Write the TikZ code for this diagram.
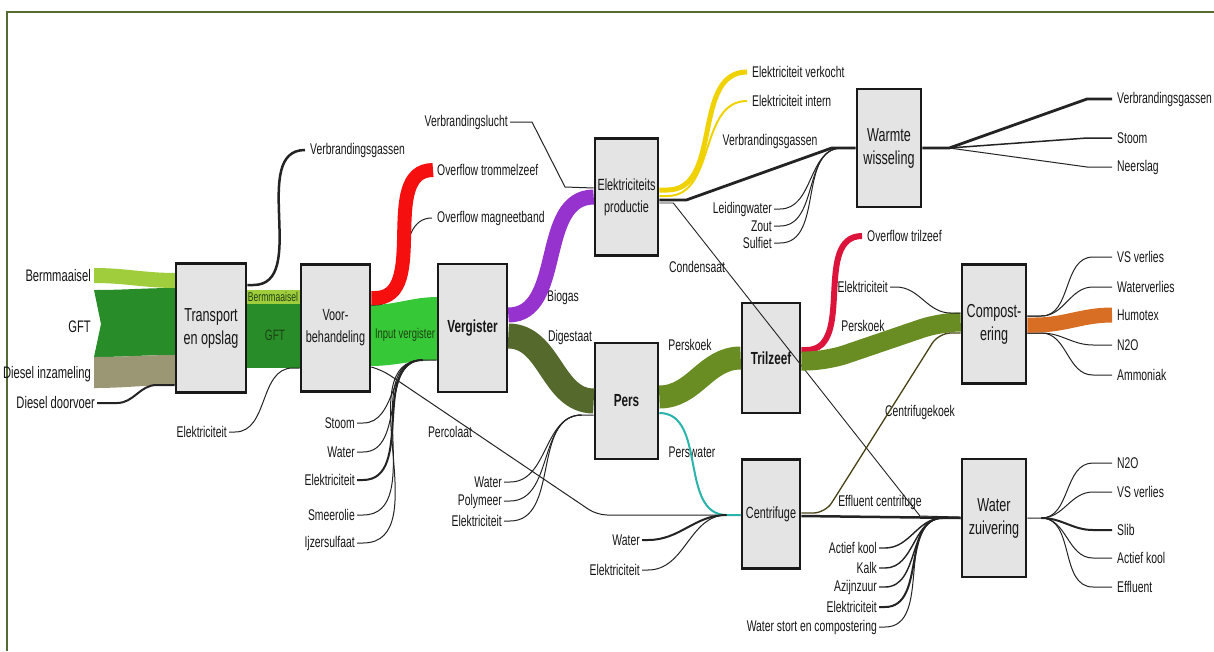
\documentclass[tikz,border=0pt]{standalone}
\usepackage{fontspec}
\setmainfont{Liberation Sans}[FakeStretch=0.67]
\usepackage{tikz}
\usetikzlibrary{positioning}
\definecolor{framegreen}{RGB}{85,107,47}
\definecolor{boxgray}{RGB}{228,228,228}
\definecolor{boxline}{RGB}{25,25,25}
\definecolor{txtgray}{RGB}{22,22,22}
\definecolor{linegray}{RGB}{35,35,35}
\definecolor{bandtxt}{RGB}{30,65,20}
\definecolor{bermgreen}{RGB}{160,205,60}
\definecolor{gftgreen}{RGB}{40,140,40}
\definecolor{dieselkhaki}{RGB}{155,150,115}
\definecolor{inputgreen}{RGB}{55,200,55}
\definecolor{overflowred}{RGB}{245,15,15}
\definecolor{biogaspurple}{RGB}{150,50,205}
\definecolor{digestolive}{RGB}{85,105,45}
\definecolor{koekgreen}{RGB}{105,140,35}
\definecolor{elecyellow}{RGB}{240,210,0}
\definecolor{perswatercol}{RGB}{40,180,170}
\definecolor{trilred}{RGB}{220,20,60}
\definecolor{humotexcol}{RGB}{215,110,35}
\definecolor{koekline}{RGB}{70,65,20}

\begin{document}
\begin{tikzpicture}[x=1pt, y=-1pt,
    box/.style={draw=boxline, fill=boxgray, line width=2.6pt, align=center,
                inner sep=1pt, text=txtgray, font=\fontsize{18.8}{23}\selectfont},
    boxs/.style={box, font=\fontsize{16.2}{22}\selectfont},
    boxb/.style={box, font=\fontsize{17.5}{21}\selectfont\bfseries},
    lbl/.style={inner sep=2pt, text=txtgray, font=\fontsize{15.5}{17}\selectfont},
    lbll/.style={lbl, font=\fontsize{16.7}{18}\selectfont},
    bandlbl/.style={inner sep=0pt, text=bandtxt, font=\fontsize{14.1}{15}\selectfont},
    lin/.style={draw=linegray, line width=1pt},
    linb/.style={draw=linegray, line width=2pt},
    heavy/.style={draw=linegray, line width=2.8pt},
]

\useasboundingbox (0,0) rectangle (1214,651);
\clip (0,0) rectangle (1214,651);
\draw[framegreen, line width=2.5pt] (7,651) -- (7,12) -- (1214,12);

% --- Input bands ---
\fill[bermgreen] (94,268) to[out=0,in=180] (176,273) -- (176,288) to[out=180,in=0] (94,283) -- cycle;
\fill[gftgreen] (94,290) to[out=0,in=180] (176,288) -- (176,355) to[out=180,in=0] (94,357) -- (101,324) -- cycle;
\fill[dieselkhaki] (94,357) to[out=0,in=180] (176,355) -- (176,385) to[out=180,in=0] (94,388) -- cycle;
\fill[bermgreen] (246,290) rectangle (301,304);
\fill[gftgreen] (246,304) rectangle (301,368);
\fill[inputgreen] (370,305) to[out=0,in=180] (438,297) -- (438,360) to[out=180,in=0] (370,366) -- cycle;

% --- Process boxes ---
\node[box, minimum width=70pt, minimum height=129pt] (tr) at (211,328) {Transport\\en opslag};
\node[boxs, minimum width=69pt, minimum height=127pt] (vb) at (335.5,328) {Voor-\\behandeling};
\node[boxb, minimum width=69pt, minimum height=128pt] (vg) at (472.5,328) {Vergister};
\node[boxs, minimum width=63pt, minimum height=117pt] (ep) at (626.5,197) {Elektriciteits\\productie};
\node[boxb, minimum width=63pt, minimum height=116pt] (ps) at (626.5,401) {\raisebox{-6pt}{Pers}};
\node[box, minimum width=64pt, minimum height=118pt] (ww) at (889,148) {Warmte\\wisseling};
\node[boxb, minimum width=58pt, minimum height=110pt] (tz) at (771,358) {Trilzeef};
\node[boxs, minimum width=58pt, minimum height=109pt] (cf) at (771,514) {Centrifuge};
\node[box, minimum width=64pt, minimum height=119pt] (cp) at (994,324) {Compost-\\ering};
\node[box, minimum width=64pt, minimum height=118pt] (wz) at (994,518) {Water\\zuivering};

% --- Band labels ---
\node[bandlbl, font=\fontsize{12.8}{13}\selectfont] (b-berm) at (273,297) {Bermmaaisel};
\node[bandlbl, font=\fontsize{15}{16}\selectfont] (b-gft) at (275,335) {GFT};
\node[bandlbl] (b-input) at (405,335) {Input vergister};

% --- Transport ---
\node[lbll, anchor=east] (i-berm) at (93,276) {Bermmaaisel};
\node[lbll, anchor=east] (i-gft) at (93,327) {GFT};
\node[lbll, anchor=east] (i-diesel) at (93,374) {Diesel inzameling};
\node[lbll, anchor=east] (i-doorvoer) at (97,403) {Diesel doorvoer};
\node[lbl, anchor=west] (o-verbr1) at (308,150) {Verbrandingsgassen};
\draw[linb] (i-doorvoer.east) -- ++(20,0) to[out=0,in=180] ([xshift=-18pt,yshift=-57pt]tr.west) -- ([yshift=-57pt]tr.west);
\draw[linegray, line width=2.5pt] ([yshift=43pt]tr.east) -- ++(6,0) to[out=0,in=180] ([xshift=-3pt]o-verbr1.west);

% --- Voorbehandeling ---
\node[lbl, anchor=east] (i-elek1) at (229,432) {Elektriciteit};
\node[lbl, anchor=west] (o-trom) at (435,170) {Overflow trommelzeef};
\node[lbl, anchor=west] (o-magn) at (435,218) {Overflow magneetband};
\node[lbl] (l-percol) at (450,432) {Percolaat};
\draw[lin] (i-elek1.east) -- ++(6,0) to[out=0,in=180] ([xshift=-7pt,yshift=-40pt]vb.west) -- ([yshift=-40pt]vb.west);
\draw[lin] ([yshift=23pt]vb.east) -- ++(4,0) to[out=0,in=180] ([xshift=-3pt]o-magn.west);
\draw[overflowred, line width=14pt] ([yshift=30pt]vb.east) -- ++(4,0) to[out=0,in=180] ([xshift=-2pt]o-trom.west);
\draw[lin, rounded corners=10pt] ([yshift=-39pt]vb.east) -- (382,370) -- (597,515) -- ([yshift=-1pt]cf.west);

% --- Vergister ---
\node[lbl, anchor=east] (i-stoom) at (357,423) {Stoom};
\node[lbl, anchor=east] (i-water1) at (357,452) {Water};
\node[lbl, anchor=east] (i-elek2) at (357,480) {Elektriciteit};
\node[lbl, anchor=east] (i-smeer) at (357,515) {Smeerolie};
\node[lbl, anchor=east] (i-ijzer) at (357,543) {Ijzersulfaat};
\draw[lin] (i-stoom.east) -- ++(6,0) to[out=0,in=180] ([xshift=-14pt,yshift=-32pt]vg.west) -- ([yshift=-32pt]vg.west);
\draw[lin] (i-water1.east) -- ++(6,0) to[out=0,in=180] ([xshift=-14pt,yshift=-32pt]vg.west);
\draw[linb] (i-elek2.east) -- ++(6,0) to[out=0,in=180] ([xshift=-14pt,yshift=-32pt]vg.west);
\draw[lin] (i-smeer.east) -- ++(6,0) to[out=0,in=180] ([xshift=-14pt,yshift=-32pt]vg.west);
\draw[lin] (i-ijzer.east) -- ++(6,0) to[out=0,in=180] ([xshift=-14pt,yshift=-32pt]vg.west);
\node[lbl] (l-biogas) at (563,297) {Biogas};
\node[lbl] (l-digest) at (570,337) {Digestaat};
\draw[biogaspurple, line width=15pt] ([yshift=13pt]vg.east) to[out=0,in=180] (ep.west);
\draw[digestolive, line width=25pt] ([yshift=-8pt]vg.east) to[out=0,in=180] (ps.west);

% --- Elektriciteitsproductie ---
\node[lbl, anchor=east] (i-lucht) at (510,122) {Verbrandingslucht};
\node[lbl, anchor=west] (o-verk) at (750,72) {Elektriciteit verkocht};
\node[lbl, anchor=west] (o-intern) at (750,101) {Elektriciteit intern};
\node[lbl] (l-verbr2) at (770,141) {Verbrandingsgassen};
\node[lbl] (l-conden) at (697,267) {Condensaat};
\draw[lin] (i-lucht.east) -- ++(22,0) -- (565,187) -- ([yshift=9pt]ep.west);
\draw[elecyellow, line width=5pt] ([yshift=7pt]ep.east) -- ++(8,0) to[out=0,in=180] ([xshift=-3pt]o-verk.west);
\draw[elecyellow, line width=2pt] ([yshift=1pt]ep.east) -- ++(8,0) to[out=0,in=180] ([xshift=-3pt]o-intern.west);
\draw[heavy] ([yshift=-3pt]ep.east) -- ++(27,0) -- ([xshift=-24pt]ww.west) -- (ww.west);
\draw[lin, line width=0.9pt] ([yshift=-6pt]ep.east) -- ++(14,0) -- (920,516) -- ([yshift=1pt]wz.west);

% --- Warmtewisseling ---
\node[lbl, anchor=east] (i-leiding) at (774,209) {Leidingwater};
\node[lbl, anchor=east] (i-zout) at (774,226) {Zout};
\node[lbl, anchor=east] (i-sulfiet) at (774,243) {Sulfiet};
\node[lbl, anchor=west] (o-verbr3) at (1115,99) {Verbrandingsgassen};
\node[lbl, anchor=west] (o-stoom) at (1115,138) {Stoom};
\node[lbl, anchor=west] (o-neerslag) at (1115,167) {Neerslag};
\draw[lin] (i-leiding.east) -- ++(6,0) to[out=0,in=180] ([xshift=-14pt]ww.west);
\draw[lin] (i-zout.east) -- ++(6,0) to[out=0,in=180] ([xshift=-14pt]ww.west);
\draw[lin] (i-sulfiet.east) -- ++(6,0) to[out=0,in=180] ([xshift=-14pt]ww.west);
\draw[heavy] (ww.east) -- ++(27,0) -- ([xshift=-28pt]o-verbr3.west) -- ([xshift=-3pt]o-verbr3.west);
\draw[lin, line width=1.5pt] ([xshift=27pt]ww.east) -- ([xshift=-28pt]o-stoom.west) -- ([xshift=-3pt]o-stoom.west);
\draw[lin] ([xshift=27pt]ww.east) -- ([xshift=-28pt]o-neerslag.west) -- ([xshift=-3pt]o-neerslag.west);

% --- Pers ---
\node[lbl, anchor=east] (i-water2) at (504,482) {Water};
\node[lbl, anchor=east] (i-polymeer) at (504,501) {Polymeer};
\node[lbl, anchor=east] (i-elek3) at (504,521) {Elektriciteit};
\node[lbl] (l-perskoek1) at (690,345) {Perskoek};
\node[lbl] (l-persw) at (692,452) {Perswater};
\draw[lin] (i-water2.east) -- ++(6,0) to[out=0,in=180] ([xshift=-12pt,yshift=-14pt]ps.west) -- ([yshift=-14pt]ps.west);
\draw[lin] (i-polymeer.east) -- ++(6,0) to[out=0,in=180] ([xshift=-12pt,yshift=-14pt]ps.west);
\draw[lin] (i-elek3.east) -- ++(6,0) to[out=0,in=180] ([xshift=-12pt,yshift=-14pt]ps.west);
\draw[koekgreen, line width=23pt] ([yshift=4pt]ps.east) to[out=0,in=180] (tz.west);
\draw[perswatercol, line width=2pt] ([yshift=-12pt]ps.east) to[out=0,in=180] ([xshift=-14pt,yshift=-1pt]cf.west) -- ([yshift=-1pt]cf.west);

% --- Trilzeef ---
\node[lbl, anchor=west] (o-tril) at (865,236) {Overflow trilzeef};
\node[lbl] (l-perskoek2) at (863,326) {Perskoek};
\draw[trilred, line width=6pt] ([yshift=8pt]tz.east) -- ++(5,0) to[out=0,in=180] ([xshift=-3pt]o-tril.west);
\draw[koekgreen, line width=19pt, rounded corners=20pt] ([yshift=-3pt]tz.east) -- ++(25,0) -- ([xshift=-20pt,yshift=2pt]cp.west) -- ([yshift=2pt]cp.west);

% --- Centrifuge ---
\node[lbl, anchor=east] (i-water3) at (642,540) {Water};
\node[lbl, anchor=east] (i-elek4) at (642,570) {Elektriciteit};
\node[lbl] (l-ckoek) at (920,412) {Centrifugekoek};
\node[lbl] (l-effl) at (880,502) {Effluent centrifuge};
\draw[linb] (i-water3.east) -- ++(6,0) to[out=0,in=180] ([xshift=-14pt,yshift=-1pt]cf.west);
\draw[lin] (i-elek4.east) -- ++(6,0) to[out=0,in=180] ([xshift=-14pt,yshift=-1pt]cf.west);
\draw[koekline, line width=1.3pt, rounded corners=12pt] ([yshift=1pt]cf.east) -- ++(24,0) -- ([xshift=-22pt,yshift=-9pt]cp.west) -- ([yshift=-9pt]cp.west);
\draw[linegray, line width=2.5pt] ([yshift=-2pt]cf.east) -- (wz.west);

% --- Compostering ---
\node[lbl, anchor=east] (i-elek5) at (890,287) {Elektriciteit};
\node[lbl, anchor=west] (o-vs1) at (1115,257) {VS verlies};
\node[lbl, anchor=west] (o-waterv) at (1115,287) {Waterverlies};
\node[lbl, anchor=west] (o-humo) at (1115,315) {Humotex};
\node[lbl, anchor=west] (o-n2o1) at (1115,345) {N2O};
\node[lbl, anchor=west] (o-ammo) at (1115,375) {Ammoniak};
\draw[lin] (i-elek5.east) -- ++(6,0) to[out=0,in=180] ([xshift=-10pt,yshift=11pt]cp.west) -- ([yshift=11pt]cp.west);
\draw[lin] ([yshift=8pt]cp.east) -- ++(14,0) to[out=0,in=180] ([xshift=-22pt]o-vs1.west) -- ([xshift=-3pt]o-vs1.west);
\draw[lin] ([yshift=8pt]cp.east) -- ++(14,0) to[out=0,in=180] ([xshift=-22pt]o-waterv.west) -- ([xshift=-3pt]o-waterv.west);
\draw[lin] ([yshift=-9pt]cp.east) -- ++(14,0) to[out=0,in=180] ([xshift=-22pt]o-n2o1.west) -- ([xshift=-3pt]o-n2o1.west);
\draw[lin] ([yshift=-9pt]cp.east) -- ++(14,0) to[out=0,in=180] ([xshift=-22pt]o-ammo.west) -- ([xshift=-3pt]o-ammo.west);
\draw[humotexcol, line width=15pt] ([yshift=-1pt]cp.east) -- ++(8,0) to[out=0,in=180] ([xshift=-3pt]o-humo.west);

% --- Waterzuivering ---
\node[lbl, anchor=east] (i-kool) at (879,548) {Actief kool};
\node[lbl, anchor=east] (i-kalk) at (879,568) {Kalk};
\node[lbl, anchor=east] (i-azijn) at (879,587) {Azijnzuur};
\node[lbl, anchor=east] (i-elek6) at (879,607) {Elektriciteit};
\node[lbl, anchor=east] (i-stort) at (879,627) {Water stort en compostering};
\node[lbl, anchor=west] (o-n2o2) at (1115,463) {N2O};
\node[lbl, anchor=west] (o-vs2) at (1115,492) {VS verlies};
\node[lbl, anchor=west] (o-slib) at (1115,530) {Slib};
\node[lbl, anchor=west] (o-kool) at (1115,558) {Actief kool};
\node[lbl, anchor=west] (o-effl) at (1115,587) {Effluent};
\draw[lin, line width=1.4pt] (i-kool.east) -- ++(6,0) to[out=0,in=180] ([xshift=-18pt]wz.west) -- (wz.west);
\draw[lin, line width=1.4pt] (i-kalk.east) -- ++(6,0) to[out=0,in=180] ([xshift=-18pt]wz.west);
\draw[lin, line width=1.4pt] (i-azijn.east) -- ++(6,0) to[out=0,in=180] ([xshift=-18pt]wz.west);
\draw[linb] (i-elek6.east) -- ++(6,0) to[out=0,in=180] ([xshift=-18pt]wz.west);
\draw[lin] (i-stort.east) -- ++(6,0) to[out=0,in=180] ([xshift=-18pt]wz.west);
\draw[lin] (wz.east) -- ++(14,0) to[out=0,in=180] ([xshift=-22pt]o-n2o2.west) -- ([xshift=-3pt]o-n2o2.west);
\draw[lin] ([xshift=14pt]wz.east) to[out=0,in=180] ([xshift=-22pt]o-vs2.west) -- ([xshift=-3pt]o-vs2.west);
\draw[linb] ([xshift=14pt]wz.east) to[out=0,in=180] ([xshift=-22pt]o-slib.west) -- ([xshift=-3pt]o-slib.west);
\draw[lin] ([xshift=14pt]wz.east) to[out=0,in=180] ([xshift=-22pt]o-kool.west) -- ([xshift=-3pt]o-kool.west);
\draw[lin] ([xshift=14pt]wz.east) to[out=0,in=180] ([xshift=-22pt]o-effl.west) -- ([xshift=-3pt]o-effl.west);

\end{tikzpicture}
\end{document}
